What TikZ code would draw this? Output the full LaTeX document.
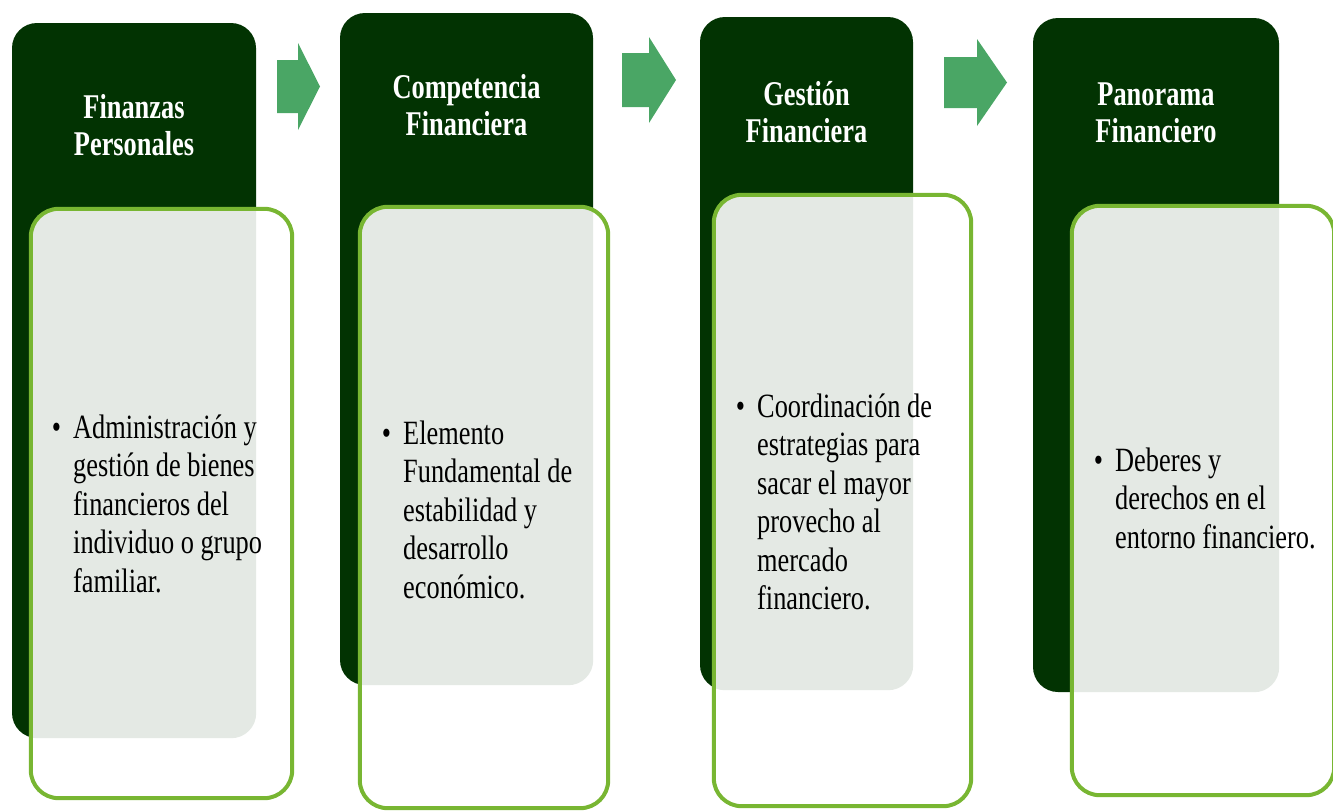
\documentclass[tikz,border=0pt]{standalone}
\usepackage{fontspec}
\usepackage{xcolor}
\newfontfamily\cuerpo{Liberation Serif}[FakeStretch=0.775]
\newfontfamily\titulo{Liberation Serif}[FakeStretch=0.76]
\definecolor{verdeosc}{HTML}{023302}
\definecolor{verdeflecha}{HTML}{4AA665}
\definecolor{verdeborde}{HTML}{78B632}
\definecolor{grisclaro}{HTML}{E4E9E4}
\newcommand{\bloque}[2]{\begin{tabular}[t]{@{}#1@{}}#2\end{tabular}}
\newcommand{\vineta}{\llap{\textbullet\hspace{12pt}}}

\begin{document}
\begin{tikzpicture}[x=1pt,y=-1pt,
    oscuro/.style={fill=verdeosc, rounded corners=25pt, inner sep=0pt},
    claro/.style={fill=white, rounded corners=28pt, inner sep=0pt},
    borde/.style={draw=verdeborde, line width=4pt, rounded corners=28pt},
    flecha/.style={fill=verdeflecha},
    tit/.style={text=white, anchor=base, inner sep=0pt,
      font=\titulo\bfseries\fontsize{34.7}{37}\selectfont},
    txt/.style={text=black, anchor=base west, inner sep=0pt,
      font=\cuerpo\fontsize{34}{38.5}\selectfont}]

    \useasboundingbox (0,0) rectangle (1333,811);

    % dark columns
    \foreach \i/\cx/\cy/\w/\h in {1/134/380.5/244/715, 2/466.5/349/253/672,
                                  3/806.5/353.5/213/673, 4/1156/355/246/674}
    \node[oscuro, minimum width=\w pt, minimum height=\h pt] (d\i) at (\cx,\cy) {};

    % arrows between columns
    \foreach \xa/\xb/\xc/\yc/\hs/\hc in {277/298/320/86.5/26.5/43.5,
                                         622/649/676/80/27/43,
                                         944/977/1007/82.5/25.5/43.5}
    \fill[flecha] (\xa,\yc-\hs) -- (\xb,\yc-\hs) -- (\xb,\yc-\hc) -- (\xc,\yc)
       -- (\xb,\yc+\hc) -- (\xb,\yc+\hs) -- (\xa,\yc+\hs) -- cycle;

    % light boxes
    \foreach \i/\cx/\cy/\w/\h in {1/161.5/503.5/261/589, 2/484/507.5/248/601,
                                  3/842.5/500.5/257/611, 4/1203/500.5/262/589}
    \node[claro, minimum width=\w pt, minimum height=\h pt] (l\i) at (\cx,\cy) {};

    \foreach \i in {1,...,4} {
      \begin{scope}
        \clip[rounded corners=25pt] (d\i.south west) rectangle (d\i.north east);
        \fill[grisclaro, rounded corners=28pt] (l\i.south west) rectangle (l\i.north east);
      \end{scope}
      \draw[borde] (l\i.south west) rectangle (l\i.north east);
    }

    % titles
    \node[tit] (t1) at (134,118) {\bloque{c}{Finanzas\\Personales}};
    \node[tit] (t2) at (466.5,98) {\bloque{c}{Competencia\\Financiera}};
    \node[tit] (t3) at (806.5,105) {\bloque{c}{Gestión\\Financiera}};
    \node[tit] (t4) at (1156,105) {\bloque{c}{Panorama\\Financiero}};

    % texts
    \node[txt] (c1) at (73,438) {\bloque{l}{\vineta Administración y\\gestión de bienes\\financieros del\\individuo o grupo\\familiar.}};
    \node[txt] (c2) at (403,444) {\bloque{l}{\vineta Elemento\\Fundamental de\\estabilidad y\\desarrollo\\económico.}};
    \node[txt] (c3) at (757,417) {\bloque{l}{\vineta Coordinación de\\estrategias para\\sacar el mayor\\provecho al\\mercado\\financiero.}};
    \node[txt] (c4) at (1115,471) {\bloque{l}{\vineta Deberes y\\derechos en el\\entorno financiero.}};

\end{tikzpicture}
\end{document}
